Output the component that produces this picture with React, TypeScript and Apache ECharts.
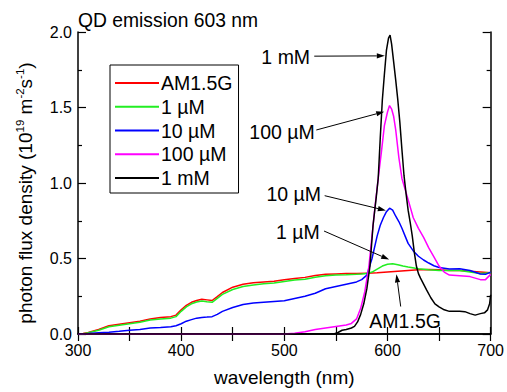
import React, { useEffect, useRef } from "react";
import * as echarts from "echarts";

const FONT = "'Liberation Sans', Arial, Helvetica, sans-serif";

const titleText = "QD emission 603 nm";
const seriesNames = ["AM1.5G", "1 µM", "10 µM", "100 µM", "1 mM"];
const seriesColors = ["#ff0000", "#22ee22", "#0000ff", "#ff00ff", "#000000"];

const xTicks = [300, 400, 500, 600, 700];
const yTicks = ["0.0", "0.5", "1.0", "1.5", "2.0"];

const amWl = [300, 305, 310, 320, 330, 340, 350, 360, 370, 380, 390, 395, 400, 405, 410, 415, 420, 425, 430, 435, 440, 450, 460, 470, 480, 490, 500, 510, 520, 530, 540, 550, 560, 570, 580, 590, 600, 610, 620, 630, 640, 650, 660, 670, 680, 690, 700];
const amVal = [0, 0.003, 0.01, 0.03, 0.055, 0.065, 0.075, 0.085, 0.1, 0.11, 0.115, 0.125, 0.16, 0.19, 0.21, 0.222, 0.23, 0.226, 0.222, 0.248, 0.275, 0.31, 0.33, 0.34, 0.345, 0.35, 0.36, 0.368, 0.375, 0.388, 0.395, 0.398, 0.4, 0.4, 0.403, 0.405, 0.41, 0.415, 0.42, 0.425, 0.427, 0.425, 0.42, 0.42, 0.415, 0.41, 0.405];

const uM1Wl = [300, 305, 310, 320, 330, 340, 350, 360, 370, 380, 390, 395, 400, 405, 410, 415, 420, 425, 430, 435, 440, 450, 460, 470, 480, 490, 500, 510, 520, 530, 540, 550, 560, 570, 575, 580, 585, 590, 595, 600, 605, 610, 615, 620, 630, 640, 650, 660, 670, 680, 690, 700];
const uM1Val = [0, 0.002, 0.008, 0.025, 0.048, 0.058, 0.068, 0.078, 0.092, 0.1, 0.105, 0.115, 0.15, 0.18, 0.2, 0.212, 0.218, 0.213, 0.21, 0.236, 0.262, 0.295, 0.315, 0.325, 0.333, 0.338, 0.348, 0.357, 0.363, 0.376, 0.385, 0.39, 0.392, 0.395, 0.397, 0.4, 0.41, 0.43, 0.45, 0.462, 0.465, 0.458, 0.45, 0.443, 0.432, 0.425, 0.42, 0.42, 0.42, 0.41, 0.4, 0.405];

const uM10Wl = [300, 310, 320, 330, 340, 350, 360, 370, 380, 390, 395, 400, 405, 410, 415, 420, 425, 430, 435, 440, 450, 460, 470, 480, 490, 500, 510, 520, 530, 540, 550, 560, 570, 575, 580, 585, 590, 593, 596, 599, 602, 605, 608, 611, 614, 617, 620, 625, 630, 635, 640, 645, 650, 660, 670, 680, 690, 695, 700];
const uM10Val = [0, 0.003, 0.008, 0.012, 0.018, 0.025, 0.03, 0.04, 0.043, 0.048, 0.055, 0.068, 0.085, 0.095, 0.105, 0.11, 0.112, 0.115, 0.13, 0.15, 0.175, 0.195, 0.205, 0.21, 0.215, 0.22, 0.235, 0.25, 0.27, 0.3, 0.315, 0.33, 0.345, 0.36, 0.39, 0.5, 0.65, 0.72, 0.77, 0.81, 0.833, 0.82, 0.78, 0.745, 0.7, 0.65, 0.6, 0.55, 0.515, 0.49, 0.47, 0.452, 0.44, 0.43, 0.432, 0.42, 0.397, 0.395, 0.41];

const uM100Wl = [300, 500, 510, 520, 530, 540, 550, 560, 565, 570, 574, 578, 582, 585, 588, 591, 594, 597, 600, 602, 604, 606, 608, 611, 614, 617, 620, 625, 630, 635, 640, 645, 650, 655, 660, 670, 680, 690, 695, 700];
const uM100Val = [0, 0, 0.005, 0.015, 0.03, 0.04, 0.05, 0.06, 0.07, 0.1, 0.17, 0.28, 0.45, 0.65, 0.85, 1.03, 1.2, 1.38, 1.47, 1.513, 1.49, 1.44, 1.35, 1.17, 1.03, 0.96, 0.89, 0.77, 0.7, 0.64, 0.57, 0.51, 0.45, 0.41, 0.39, 0.385, 0.38, 0.36, 0.36, 0.395];

const mM1Wl = [300, 548, 552, 556, 560, 565, 568, 571, 574, 577, 580, 583, 586, 589, 591, 593, 595, 597, 599, 601, 602.5, 604, 606, 608, 610, 612, 614, 616, 618, 620, 622, 624, 626, 628, 630, 632, 635, 638, 642, 646, 650, 655, 660, 665, 670, 675, 680, 685, 690, 694, 697, 699, 700];
const mM1Val = [0, 0, 0.01, 0.025, 0.03, 0.04, 0.05, 0.08, 0.13, 0.2, 0.3, 0.45, 0.72, 0.9, 1.03, 1.3, 1.55, 1.72, 1.88, 1.96, 1.98, 1.92, 1.8, 1.68, 1.55, 1.4, 1.22, 1.05, 0.93, 0.82, 0.74, 0.65, 0.54, 0.45, 0.4, 0.37, 0.33, 0.29, 0.24, 0.2, 0.18, 0.16, 0.15, 0.15, 0.15, 0.148, 0.135, 0.125, 0.135, 0.14, 0.16, 0.2, 0.26];

const seriesWl = [amWl, uM1Wl, uM10Wl, uM100Wl, mM1Wl];
const seriesVal = [amVal, uM1Val, uM10Val, uM100Val, mM1Val];

// annotations: label, label anchor (data), label alignment, arrow start, arrow end (data coords)
const annLabels = ["1 mM", "100 µM", "10 µM", "1 µM", "AM1.5G"];
const annTextPos = [[525, 1.836], [529.5, 1.336], [535.6, 0.928], [534.3, 0.678], [617.1, 0.0875]];
const annAlign = ["right", "right", "right", "right", "center"];
const annFrom = [[529, 1.84], [531, 1.351], [539.1, 0.916], [538.5, 0.682], [612.8, 0.182]];
const annTo = [[597.4, 1.842], [596.8, 1.472], [598.4, 0.818], [601.6, 0.493], [608.7, 0.395]];

export default function App() {
  const ref = useRef<HTMLDivElement>(null);
  useEffect(() => {
    if (!ref.current) return;
    const chart = echarts.init(ref.current, null, { renderer: "svg" });
    const axisLine = { show: true, lineStyle: { color: "#000", width: 1.5 } };
    const option: any = {
      animation: false,
      backgroundColor: "#fff",
      textStyle: { fontFamily: FONT },
      title: {
        text: titleText,
        left: 78,
        top: 11,
        padding: 0,
        textStyle: { fontSize: 19.3, fontWeight: "normal", color: "#000", fontFamily: FONT },
      },
      grid: { left: 78, right: 13, top: 32, bottom: 56 },
      legend: {
        orient: "vertical",
        left: 110,
        top: 65,
        padding: [8, 6, 5, 5],
        borderColor: "#000",
        borderWidth: 1,
        itemWidth: 44,
        itemHeight: 2,
        itemGap: 3.75,
        icon: "rect",
        textStyle: { fontSize: 19.5, color: "#000", fontFamily: FONT, lineHeight: 20, padding: [0, 0, 0, -3] },
        data: seriesNames,
      },
      xAxis: [
        {
          type: "value",
          min: 300,
          max: 700,
          interval: 100,
          name: "wavelength (nm)",
          nameLocation: "middle",
          nameGap: 34,
          nameTextStyle: { fontSize: 19, color: "#000", fontFamily: FONT },
          axisLine,
          axisTick: { show: true, inside: true, length: 7, lineStyle: { color: "#000", width: 1.2 } },
          minorTick: { show: true, splitNumber: 2, length: 7, lineStyle: { color: "#000", width: 1.2 } },
          axisLabel: {
            fontSize: 16,
            color: "#000",
            margin: 8,
            fontFamily: FONT,
            formatter: (v: number) => (xTicks.includes(v) ? String(v) : ""),
          },
          splitLine: { show: false },
        },
        {
          type: "value",
          position: "top",
          min: 300,
          max: 700,
          interval: 100,
          axisLine,
          axisTick: { show: true, inside: true, length: 7, lineStyle: { color: "#000", width: 1.2 } },
          minorTick: { show: true, splitNumber: 2, length: 7, lineStyle: { color: "#000", width: 1.2 } },
          axisLabel: { show: false },
          splitLine: { show: false },
        },
      ],
      yAxis: [
        {
          type: "value",
          min: 0,
          max: 2,
          interval: 0.5,
          name: "{n|photon flux density (10}{s|19}{n| m}{s|-2}{n|s}{s|-1}{n|)}",
          nameLocation: "middle",
          nameGap: 42,
          nameTextStyle: {
            color: "#000",
            padding: [0, 20, 0, 0],
            rich: {
              n: { fontSize: 19, lineHeight: 22, color: "#000", fontFamily: FONT },
              s: { fontSize: 11.5, lineHeight: 13, color: "#000", fontFamily: FONT, verticalAlign: "top" },
            },
          },
          axisLine,
          axisTick: { show: true, inside: true, length: 8, lineStyle: { color: "#000", width: 1.2 } },
          minorTick: { show: true, splitNumber: 2, length: 4, lineStyle: { color: "#000", width: 1.2 } },
          axisLabel: {
            fontSize: 16,
            color: "#000",
            margin: 6,
            fontFamily: FONT,
            formatter: (v: number) => yTicks[Math.round(v / 0.5)] ?? "",
          },
          splitLine: { show: false },
        },
        {
          type: "value",
          position: "right",
          min: 0,
          max: 2,
          interval: 0.5,
          axisLine,
          axisTick: { show: true, inside: true, length: 8, lineStyle: { color: "#000", width: 1.2 } },
          minorTick: { show: true, splitNumber: 2, length: 4, lineStyle: { color: "#000", width: 1.2 } },
          axisLabel: { show: false },
          splitLine: { show: false },
        },
      ],
      series: seriesNames.map((name, i) => ({
        name,
        type: "line",
        xAxisIndex: 0,
        yAxisIndex: 0,
        data: seriesWl[i].map((w, j) => [w, seriesVal[i][j]]),
        showSymbol: false,
        symbol: "none",
        smooth: false,
        lineStyle: { color: seriesColors[i], width: 1.5 },
        itemStyle: { color: seriesColors[i] },
        z: 2 + i,
      })),
    };
    chart.setOption(option);

    const graphics: any[] = [];
    annLabels.forEach((label, i) => {
      const tp = chart.convertToPixel({ gridIndex: 0 }, annTextPos[i]) as number[];
      const a = chart.convertToPixel({ gridIndex: 0 }, annFrom[i]) as number[];
      const b = chart.convertToPixel({ gridIndex: 0 }, annTo[i]) as number[];
      graphics.push({
        type: "text",
        x: tp[0],
        y: tp[1],
        z: 100,
        style: {
          text: label,
          fontSize: 19.5,
          fontFamily: FONT,
          fill: "#000",
          align: annAlign[i],
          verticalAlign: "middle",
        },
      });
      const dx = b[0] - a[0];
      const dy = b[1] - a[1];
      const len = Math.sqrt(dx * dx + dy * dy);
      const ux = dx / len;
      const uy = dy / len;
      const hl = 8;
      const hw = 2.6;
      const bx = b[0] - ux * hl;
      const by = b[1] - uy * hl;
      graphics.push({
        type: "line",
        z: 100,
        shape: { x1: a[0], y1: a[1], x2: bx, y2: by },
        style: { stroke: "#000", lineWidth: 1 },
      });
      graphics.push({
        type: "polygon",
        z: 100,
        shape: {
          points: [
            [b[0], b[1]],
            [bx - uy * hw, by + ux * hw],
            [bx + uy * hw, by - ux * hw],
          ],
        },
        style: { fill: "#000" },
      });
    });
    chart.setOption({ graphic: graphics });

    return () => chart.dispose();
  }, []);
  return (
    <div
      ref={ref}
      style={{ position: "fixed", left: 0, top: 0, width: 507, height: 392, background: "#fff" }}
    />
  );
}
